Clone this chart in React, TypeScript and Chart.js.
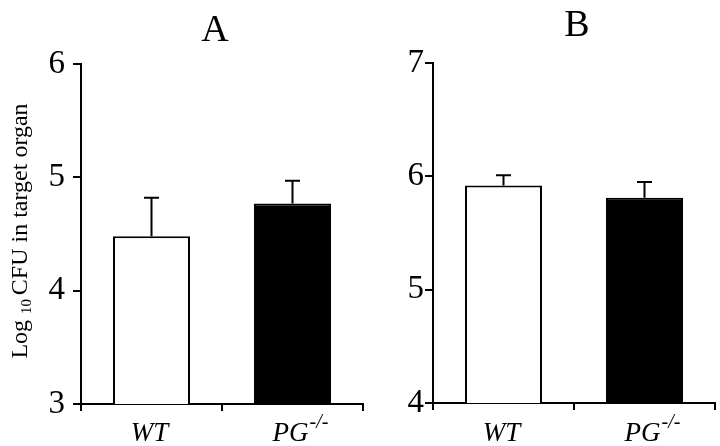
import React, { useEffect, useRef } from "react";
import { Chart, registerables } from "chart.js";

Chart.register(...registerables);

const categories = ["WT", "PG"];
const categorySuperscripts = ["", "-/-"];
const barColors = ["#ffffff", "#000000"];

const panelAMeans = [4.48, 4.77];
const panelAErrors = [0.34, 0.2];
const panelAMin = 3;
const panelAMax = 6;

const panelBMeans = [5.92, 5.81];
const panelBErrors = [0.09, 0.14];
const panelBMin = 4;
const panelBMax = 7;

const yAxisLabel = "Log";
const yAxisLabelSub = "10";
const yAxisLabelRest = "CFU in target organ";

const SERIF = "'Liberation Serif', 'Times New Roman', serif";

type PanelProps = {
  title: string;
  means: number[];
  errors: number[];
  min: number;
  max: number;
  left: number;
  width: number;
  yAxisWidth: number;
  rightPad: number;
  topPad: number;
  xAxisHeight: number;
  tickPad: number;
  titleY: number;
  titleDx: number;
  showYLabel: boolean;
};

function Panel(p: PanelProps) {
  const ref = useRef<HTMLCanvasElement | null>(null);
  useEffect(() => {
    let chart: any = null;
    let cancelled = false;
    const overlay = {
      id: "overlay",
      afterDraw(c: any) {
        const ctx = c.ctx as CanvasRenderingContext2D;
        const xs = c.scales.x;
        const ys = c.scales.y;
        const meta = c.getDatasetMeta(0);
        ctx.save();
        ctx.strokeStyle = "#000";
        ctx.lineWidth = 2;
        p.means.forEach((m, i) => {
          const bar = meta.data[i];
          const x = bar.x;
          const yTop = ys.getPixelForValue(m + p.errors[i]);
          const yBar = ys.getPixelForValue(m);
          ctx.beginPath();
          ctx.moveTo(x, yBar);
          ctx.lineTo(x, yTop);
          ctx.moveTo(x - 7.5, yTop);
          ctx.lineTo(x + 7.5, yTop);
          ctx.stroke();
        });
        ctx.fillStyle = "#000";
        ctx.textBaseline = "alphabetic";
        categories.forEach((cat, i) => {
          const x = xs.getPixelForValue(i);
          ctx.font = `italic 27px ${SERIF}`;
          const w1 = ctx.measureText(cat).width;
          const sup = categorySuperscripts[i];
          const start = x - w1 / 2 - 2;
          ctx.textAlign = "left";
          ctx.fillText(cat, start, 441);
          if (sup) {
            ctx.font = `italic 20px ${SERIF}`;
            ctx.fillText(sup, start + w1 + 1, 428);
          }
        });
        ctx.font = `38px ${SERIF}`;
        ctx.textAlign = "center";
        const cx = (c.chartArea.left + c.chartArea.right) / 2 + p.titleDx;
        ctx.fillText(p.title, cx, p.titleY);
        if (p.showYLabel) {
          ctx.translate(27, 231);
          ctx.rotate(-Math.PI / 2);
          ctx.font = `24px ${SERIF}`;
          const a = ctx.measureText(yAxisLabel + " ").width;
          ctx.font = `15px ${SERIF}`;
          const b = ctx.measureText(yAxisLabelSub + " ").width;
          ctx.font = `24px ${SERIF}`;
          const w3 = ctx.measureText(yAxisLabelRest).width;
          const total = a + b + w3;
          let xx = -total / 2;
          ctx.textAlign = "left";
          ctx.fillText(yAxisLabel, xx, 0);
          xx += a;
          ctx.font = `15px ${SERIF}`;
          ctx.fillText(yAxisLabelSub, xx, 4);
          xx += b;
          ctx.font = `24px ${SERIF}`;
          ctx.fillText(yAxisLabelRest, xx, 0);
        }
        ctx.restore();
      },
    };
    const build = () => {
      if (cancelled || !ref.current) return;
      chart = new Chart(ref.current, {
        type: "bar",
        data: {
          labels: categories,
          datasets: [
            {
              data: p.means,
              backgroundColor: barColors,
              borderColor: "#000",
              borderWidth: 2,
              barPercentage: 0.546,
              categoryPercentage: 1,
            },
          ],
        },
        options: {
          responsive: false,
          animation: false,
          devicePixelRatio: 1,
          layout: { padding: { left: 0, right: p.rightPad, top: p.topPad, bottom: 0 } },
          plugins: { legend: { display: false }, tooltip: { enabled: false }, title: { display: false } },
          scales: {
            x: {
              type: "category",
              offset: true,
              grid: {
                display: true,
                offset: true,
                drawOnChartArea: false,
                drawTicks: true,
                tickLength: 7,
                color: "#000",
                lineWidth: 2,
              },
              border: { display: true, color: "#000", width: 2 },
              ticks: { display: false },
              afterFit: (s: any) => {
                s.height = p.xAxisHeight;
              },
            },
            y: {
              min: p.min,
              max: p.max,
              ticks: {
                stepSize: 1,
                color: "#000",
                font: { family: SERIF, size: 33 },
                padding: p.tickPad,
              },
              grid: {
                display: true,
                drawOnChartArea: false,
                drawTicks: true,
                tickLength: 8,
                color: "#000",
                lineWidth: 2,
              },
              border: { display: true, color: "#000", width: 2 },
              afterFit: (s: any) => {
                s.width = p.yAxisWidth;
              },
            },
          },
        },
        plugins: [overlay],
      } as any);
    };
    const fonts: any = (document as any).fonts;
    if (fonts && fonts.load) {
      Promise.all([
        fonts.load(`32px "Liberation Serif"`),
        fonts.load(`italic 27px "Liberation Serif"`),
      ])
        .catch(() => null)
        .then(build);
    } else {
      build();
    }
    return () => {
      cancelled = true;
      if (chart) chart.destroy();
    };
  }, []);
  return (
    <canvas
      ref={ref}
      width={p.width}
      height={446}
      style={{ position: "absolute", left: p.left, top: 0, width: p.width, height: 446 }}
    />
  );
}

export default function App() {
  useEffect(() => {
    document.body.style.margin = "0";
  }, []);
  return (
    <div style={{ position: "fixed", left: 0, top: 0, width: 720, height: 446, background: "#fff" }}>
      <Panel
        title="A"
        means={panelAMeans}
        errors={panelAErrors}
        min={panelAMin}
        max={panelAMax}
        left={0}
        width={370}
        yAxisWidth={81}
        rightPad={7}
        topPad={64}
        xAxisHeight={42}
        tickPad={8}
        titleY={41}
        titleDx={-7}
        showYLabel={true}
      />
      <Panel
        title="B"
        means={panelBMeans}
        errors={panelBErrors}
        min={panelBMin}
        max={panelBMax}
        left={370}
        width={350}
        yAxisWidth={63}
        rightPad={5}
        topPad={63}
        xAxisHeight={43}
        tickPad={1}
        titleY={36}
        titleDx={3}
        showYLabel={false}
      />
    </div>
  );
}
